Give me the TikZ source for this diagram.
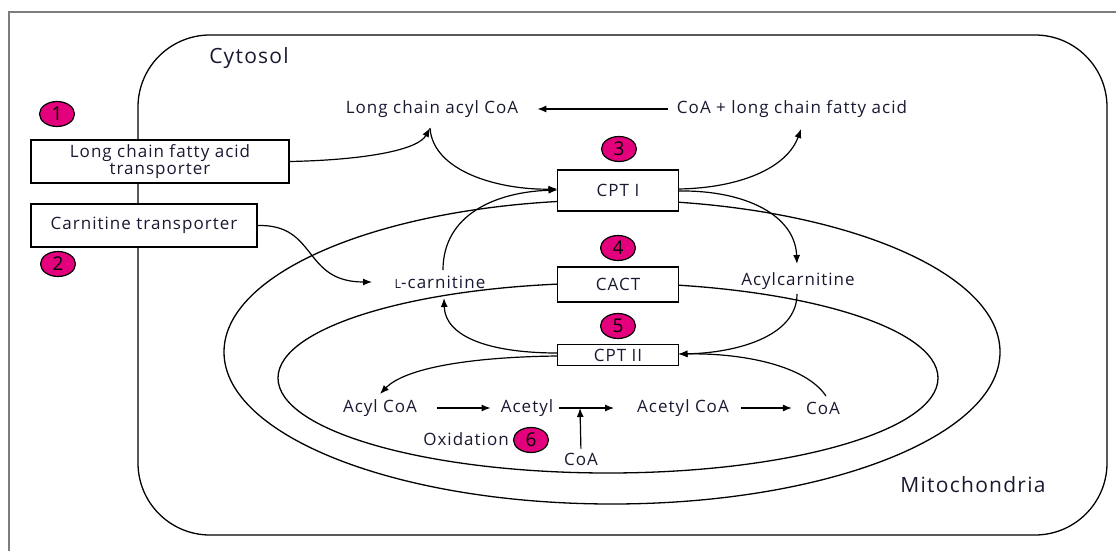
\documentclass[tikz,border=0pt]{standalone}
\usepackage{fontspec}
\setmainfont{Open Sans}[LetterSpace=6]
\usetikzlibrary{arrows.meta,shapes.geometric}
\definecolor{txtc}{RGB}{25,25,50}
\definecolor{mag}{RGB}{228,0,124}
\definecolor{framec}{RGB}{125,125,125}
\begin{document}
\begin{tikzpicture}[x=1pt,y=-1pt,
  txt/.style={text=txtc, font=\fontsize{17}{17}\selectfont, inner sep=0pt},
  big/.style={text=txtc, font=\fontsize{21}{21}\selectfont, inner sep=0pt},
  box/.style={draw, fill=white, line width=1.2pt, inner sep=0pt, text=txtc,
    font=\fontsize{17}{17}\selectfont, align=center},
  num/.style={ellipse, draw, line width=1.2pt, fill=mag, minimum width=35pt,
    minimum height=25pt, inner sep=0pt, font=\fontsize{19}{19}\selectfont},
  arr/.style={-{Latex[length=9pt,width=7pt]}, line width=1.2pt},
  memb/.style={line width=1.3pt}
]
\useasboundingbox[fill=white] (0,0) rectangle (1116,551);
% frame
\draw[framec, line width=2pt] (1116,12) -- (9,12) -- (9,551);
% cytosol
\draw[memb, rounded corners=72pt] (138,35) rectangle (1107,535);
% mitochondria membranes
\draw[memb] (612,352) ellipse [x radius=388pt, y radius=152pt];
\draw[memb] (608,378) ellipse [x radius=330pt, y radius=95pt];

% text nodes
\node[big] (cyto) at (249,58) {Cytosol};
\node[big] (mito) at (973,485) {Mitochondria};
\node[txt] (lcacoa) at (432,109) {Long chain acyl CoA};
\node[txt] (coalcfa) at (792,109) {CoA + long chain fatty acid};
\node[txt] (lcarn) at (440,282) {{\fontsize{12.5}{12}\selectfont L}-carnitine};
\node[txt] (acylcarn) at (798,281) {Acylcarnitine};
\node[txt] (acylcoa) at (380,408) {Acyl CoA};
\node[txt] (acetyl) at (527,408) {Acetyl};
\node[txt] (acetylcoa) at (683,408) {Acetyl CoA};
\node[txt] (coa) at (823,408) {CoA};
\node[txt] (coa2) at (581,459) {CoA};
\node[txt] (oxid) at (466,439) {Oxidation};

% named connector end points
\coordinate (acylIn) at (430,128);
\coordinate (fattyIn) at (801,129);
\coordinate (acylcarnIn) at (797,264);
\coordinate (acylcarnDown) at (797,294);
\coordinate (lcarnUp) at (443,270);
\coordinate (lcarnIn) at (372,282);
\coordinate (lcarnDown) at (444,298);
\coordinate (acylcoaIn) at (380,394);
\coordinate (coaUp) at (826,396);
\coordinate (jn) at (580,408);

% transporter boxes
\node[box, minimum width=258pt, minimum height=43pt] (lcfa) at (160,161.5) {Long chain fatty acid\\transporter};
\node[box, minimum width=226pt, minimum height=43pt] (ct) at (144,225.5) {Carnitine transporter};

% connectors
\draw[arr] (lcfa.east) .. controls (365,160) and (418,150) .. (acylIn);
\draw[arr] (acylIn) .. controls (433,172) and (500,190) .. (557.5,189);
\draw[arr] (678.5,189) .. controls (740,188) and (787,168) .. (fattyIn);
\draw[arr] (678.5,191) .. controls (745,190) and (795,215) .. (acylcarnIn);
\draw[arr] (lcarnUp) .. controls (443,215) and (495,192) .. (557.5,190);
\draw[arr] (ct.east) .. controls (318,224) and (302,282) .. (lcarnIn);
\draw[arr] (557.5,353) .. controls (490,353) and (445,337) .. (lcarnDown);
\draw[arr] (acylcarnDown) .. controls (797,337) and (735,353) .. (678.5,354);
\draw[arr] (557.5,356) .. controls (470,357) and (405,368) .. (acylcoaIn);
\draw[arr] (coaUp) .. controls (805,365) and (742,353) .. (678.5,354);

% central boxes
\node[box, minimum width=121pt, minimum height=41pt] (cpt1) at (618,190.5) {CPT I};
\node[box, minimum width=121pt, minimum height=35pt] (cact) at (618,284.5) {CACT};
\node[box, minimum width=121pt, minimum height=21pt] (cpt2) at (618,355) {CPT II};

% straight arrows
\draw[arr, shorten <=9pt, shorten >=19pt] (coalcfa.west) -- (lcacoa.east);
\draw[arr, shorten <=20pt, shorten >=10pt] (acylcoa.east) -- (acetyl.west);
\draw[arr, shorten <=6pt, shorten >=23pt] (acetyl.east) -- (acetylcoa.west);
\draw[arr, shorten <=12pt, shorten >=14pt] (acetylcoa.east) -- (coa.west);
\draw[arr, shorten <=4pt] (coa2.north) -- (jn);

% numbered markers
\node[num] (n1) at (57,114) {1};
\node[num] (n2) at (58,264) {2};
\node[num] (n3) at (619,149) {3};
\node[num] (n4) at (618,248) {4};
\node[num] (n5) at (618,326) {5};
\node[num] (n6) at (531,440) {6};
\end{tikzpicture}
\end{document}
